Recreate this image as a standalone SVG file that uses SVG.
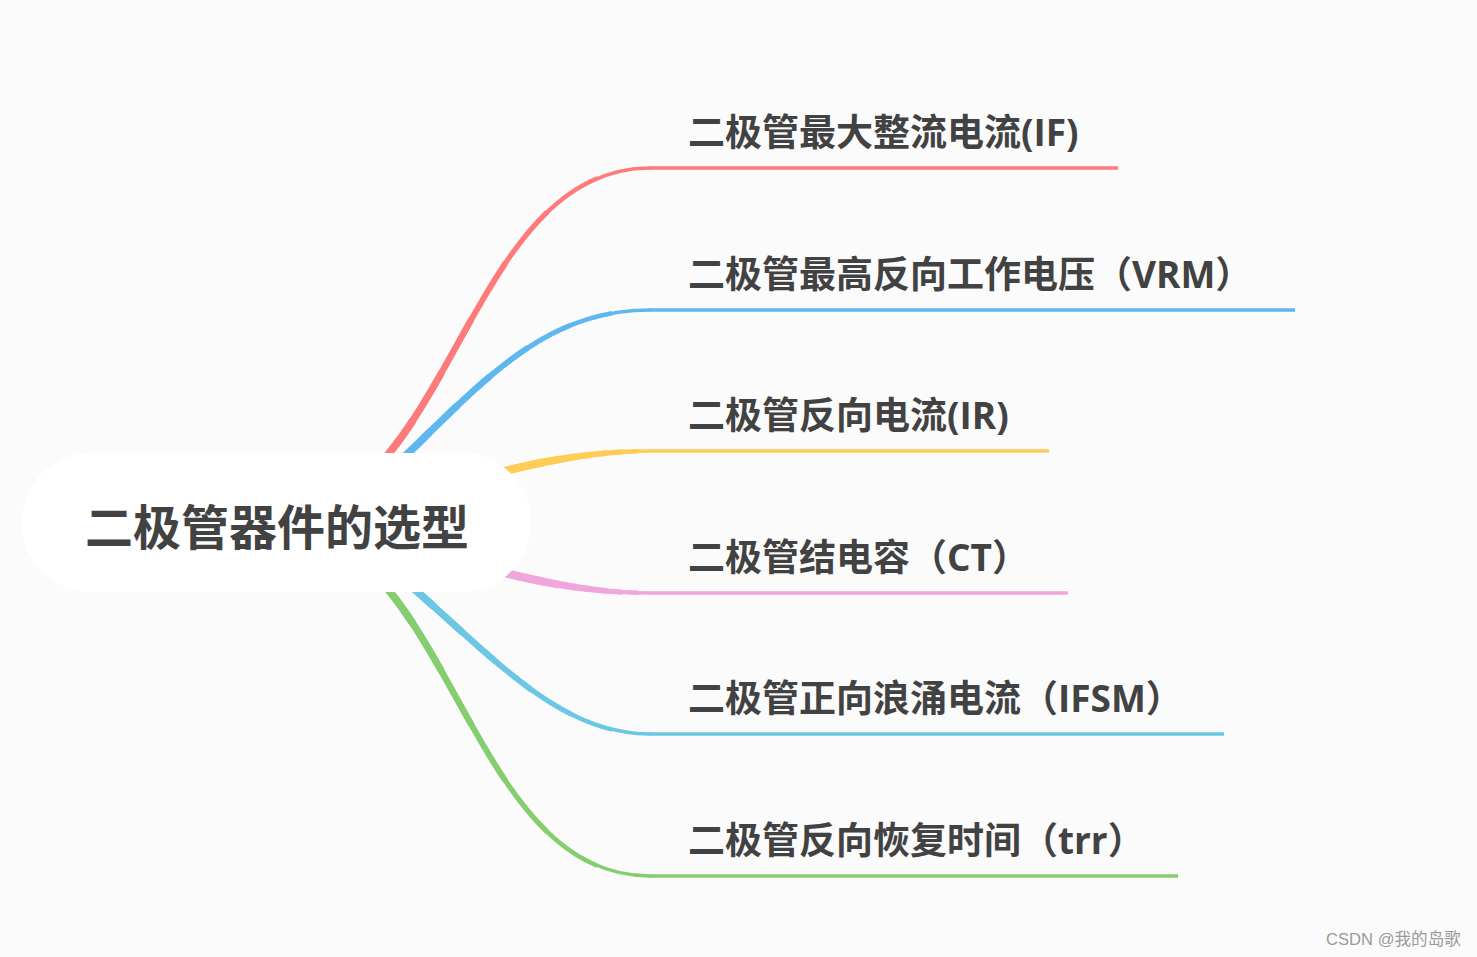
<svg xmlns="http://www.w3.org/2000/svg" xmlns:xlink="http://www.w3.org/1999/xlink" width="1477" height="957" viewBox="0 0 1477 957">
<style>
.bg{fill:#fbfbfb}
.root-box{fill:#ffffff}
.root-text{font-family:"Noto Sans CJK SC","Noto Sans",sans-serif;font-weight:bold;font-size:48px;fill:#424242}
.label{font-family:"Noto Sans CJK SC","Noto Sans",sans-serif;font-weight:bold;font-size:37px;fill:#424242}
.lat{font-family:"Open Sans","Noto Sans",sans-serif;font-weight:bold}
.wm{font-family:"Liberation Sans","Noto Sans CJK SC",sans-serif;font-size:16.6px;fill:#9a9a9a}
.br{fill:none;stroke-linecap:round;stroke-linejoin:round}
.u{fill:none;stroke-width:3.4;stroke-linecap:butt}
.w1{stroke-width:3.4}
.w2{stroke-width:4.4;stroke-dasharray:90 300}
.w3{stroke-width:5.1;stroke-dasharray:79 300}
.w4{stroke-width:5.8;stroke-dasharray:67 300}
.w5{stroke-width:6.4;stroke-dasharray:55 300}
.w6{stroke-width:7.0;stroke-dasharray:44 300}
.w7{stroke-width:7.6;stroke-dasharray:34 300}
.w8{stroke-width:8.2;stroke-dasharray:25 300}
.s2{stroke-width:4.4;stroke-dasharray:96 300}
.s3{stroke-width:5.1;stroke-dasharray:91 300}
.s4{stroke-width:5.8;stroke-dasharray:86 300}
.s5{stroke-width:6.4;stroke-dasharray:81 300}
.s6{stroke-width:7.0;stroke-dasharray:76 300}
.s7{stroke-width:7.6;stroke-dasharray:71 300}
.s8{stroke-width:8.2;stroke-dasharray:66 300}
.red{stroke:#ff7a7a}
.blue{stroke:#5fb7f0}
.yellow{stroke:#ffcc55}
.pink{stroke:#f0a6dc}
.cyan{stroke:#6cc7e5}
.green{stroke:#84ce6f}
</style>
<defs>
<path id="c1" pathLength="100" d="M264,522 C454,522 460,168 650,168"/>
<path id="c2" pathLength="100" d="M330,525 C460,415 520,310 650,310"/>
<path id="c3" pathLength="100" d="M340,520 C470,478 560,451 650,451"/>
<path id="c4" pathLength="100" d="M340,524 C470,566 560,593 650,593"/>
<path id="c5" pathLength="100" d="M330,519 C470,625 540,734 650,734"/>
<path id="c6" pathLength="100" d="M264,522 C454,522 460,876 650,876"/>
</defs>
<rect class="bg" x="0" y="0" width="1477" height="957"/>
<g id="connectors">
<g class="br red"><use href="#c1" class="w1"/><use href="#c1" class="w2"/><use href="#c1" class="w3"/><use href="#c1" class="w4"/><use href="#c1" class="w5"/><use href="#c1" class="w6"/><use href="#c1" class="w7"/><use href="#c1" class="w8"/></g>
<g class="br blue"><use href="#c2" class="w1"/><use href="#c2" class="w2"/><use href="#c2" class="w3"/><use href="#c2" class="w4"/><use href="#c2" class="w5"/><use href="#c2" class="w6"/><use href="#c2" class="w7"/><use href="#c2" class="w8"/></g>
<g class="br yellow"><use href="#c3" class="w1"/><use href="#c3" class="s2"/><use href="#c3" class="s3"/><use href="#c3" class="s4"/><use href="#c3" class="s5"/><use href="#c3" class="s6"/><use href="#c3" class="s7"/><use href="#c3" class="s8"/></g>
<g class="br pink"><use href="#c4" class="w1"/><use href="#c4" class="s2"/><use href="#c4" class="s3"/><use href="#c4" class="s4"/><use href="#c4" class="s5"/><use href="#c4" class="s6"/><use href="#c4" class="s7"/><use href="#c4" class="s8"/></g>
<g class="br cyan"><use href="#c5" class="w1"/><use href="#c5" class="w2"/><use href="#c5" class="w3"/><use href="#c5" class="w4"/><use href="#c5" class="w5"/><use href="#c5" class="w6"/><use href="#c5" class="w7"/><use href="#c5" class="w8"/></g>
<g class="br green"><use href="#c6" class="w1"/><use href="#c6" class="w2"/><use href="#c6" class="w3"/><use href="#c6" class="w4"/><use href="#c6" class="w5"/><use href="#c6" class="w6"/><use href="#c6" class="w7"/><use href="#c6" class="w8"/></g>
</g>
<g id="root">
<rect class="root-box" x="22" y="453" width="509" height="139" rx="69" ry="69"/>
<text class="root-text" x="85" y="545">二极管器件的选型</text>
</g>
<g id="node-if">
<text class="label" x="688" y="146">二极管最大整流电流<tspan class="lat">(IF)</tspan></text>
<line class="u red" x1="649" y1="168" x2="1118" y2="168"/>
</g>
<g id="node-vrm">
<text class="label" x="688" y="288">二极管最高反向工作电压（<tspan class="lat">VRM</tspan>）</text>
<line class="u blue" x1="649" y1="310" x2="1295" y2="310"/>
</g>
<g id="node-ir">
<text class="label" x="688" y="429">二极管反向电流<tspan class="lat">(IR)</tspan></text>
<line class="u yellow" x1="649" y1="451" x2="1049" y2="451"/>
</g>
<g id="node-ct">
<text class="label" x="688" y="571">二极管结电容（<tspan class="lat">CT</tspan>）</text>
<line class="u pink" x1="649" y1="593" x2="1068" y2="593"/>
</g>
<g id="node-ifsm">
<text class="label" x="688" y="712">二极管正向浪涌电流（<tspan class="lat">IFSM</tspan>）</text>
<line class="u cyan" x1="649" y1="734" x2="1224" y2="734"/>
</g>
<g id="node-trr">
<text class="label" x="688" y="854">二极管反向恢复时间（<tspan class="lat">trr</tspan>）</text>
<line class="u green" x1="649" y1="876" x2="1178" y2="876"/>
</g>
<text class="wm" x="1326" y="945">CSDN @我的岛歌</text>
</svg>
